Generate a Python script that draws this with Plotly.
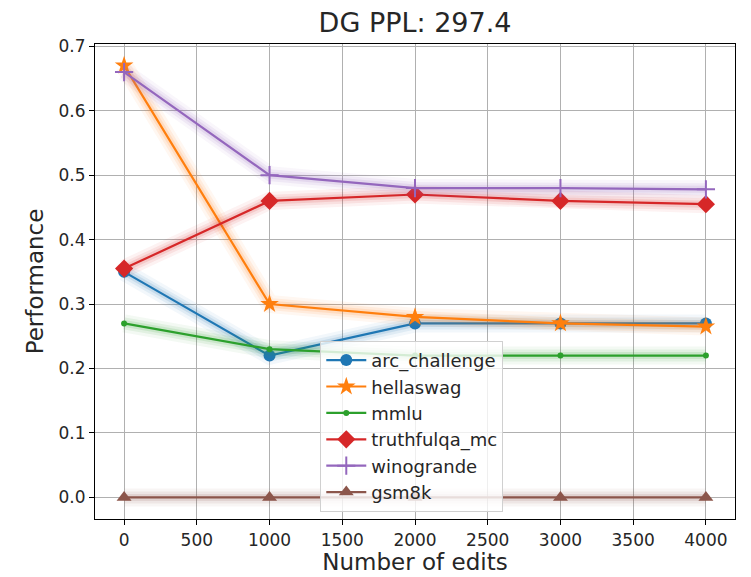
import plotly.graph_objects as go

edits = [0, 1000, 2000, 3000, 4000]
series_names = ["arc_challenge", "hellaswag", "mmlu", "truthfulqa_mc", "winogrande", "gsm8k"]
arc_challenge = [0.35, 0.22, 0.27, 0.27, 0.27]
hellaswag = [0.67, 0.30, 0.28, 0.27, 0.265]
mmlu = [0.27, 0.23, 0.22, 0.22, 0.22]
truthfulqa_mc = [0.355, 0.46, 0.47, 0.46, 0.455]
winogrande = [0.66, 0.50, 0.48, 0.48, 0.478]
gsm8k = [0.0, 0.0, 0.0, 0.0, 0.0]
x_ticks = [0, 500, 1000, 1500, 2000, 2500, 3000, 3500, 4000]
y_ticks = [0.0, 0.1, 0.2, 0.3, 0.4, 0.5, 0.6, 0.7]

values = [arc_challenge, hellaswag, mmlu, truthfulqa_mc, winogrande, gsm8k]
colors = ["#1f77b4", "#ff7f0e", "#2ca02c", "#d62728", "#9467bd", "#8c564b"]
rgb = [(31, 119, 180), (255, 127, 14), (44, 160, 44), (214, 39, 40), (148, 103, 189), (140, 86, 75)]
symbols = ["circle", "star", "circle", "diamond", "cross-thin", "triangle-up"]
sizes = [12, 14, 6, 14, 13, 13]

fig = go.Figure()
FONT = "DejaVu Sans, Arial, sans-serif"

for name, vals, c, (r, g, b), sym, sz in zip(series_names, values, colors, rgb, symbols, sizes):
    # soft glow beneath each line
    for w, a in [(18, 0.06), (12, 0.09), (7, 0.13)]:
        fig.add_trace(go.Scatter(
            x=edits, y=vals, mode="lines",
            line=dict(color=f"rgba({r},{g},{b},{a})", width=w),
            showlegend=False, hoverinfo="skip"))
    marker = dict(symbol=sym, size=sz, color=c, line=dict(color=c, width=2 if sym == "cross-thin" else 0))
    fig.add_trace(go.Scatter(
        x=edits, y=vals, mode="lines+markers", name=name,
        line=dict(color=c, width=2.2), marker=marker))

axis_common = dict(
    showline=True, linecolor="black", linewidth=1.2, mirror=True,
    ticks="outside", ticklen=5, tickcolor="black", tickwidth=1,
    showgrid=True, gridcolor="#b0b0b0", gridwidth=1, zeroline=False,
    automargin=False,
    tickfont=dict(family=FONT, size=17, color="#262626"),
)

# the page body has an 8px margin, so the figure is offset by 8px in the window
fig.update_layout(
    width=751, height=577,
    margin=dict(l=87, r=24, t=36, b=66),
    paper_bgcolor="white", plot_bgcolor="white",
    title=dict(text="DG PPL: 297.4", x=0.542, xanchor="center", y=0.975, yanchor="middle",
               font=dict(family=FONT, size=27, color="#262626")),
    xaxis=dict(range=[-200, 4200], tickvals=x_ticks, ticktext=[str(v) for v in x_ticks],
               title=dict(text="Number of edits", font=dict(family=FONT, size=23, color="#262626"), standoff=4),
               **axis_common),
    yaxis=dict(range=[-0.0335, 0.7035], tickvals=y_ticks, ticktext=[f"{v:.1f}" for v in y_ticks],
               title=dict(text="Performance", font=dict(family=FONT, size=23, color="#262626"), standoff=8),
               **axis_common),
    legend=dict(x=0.352, y=0.375, xanchor="left", yanchor="top",
                bgcolor="rgba(255,255,255,0.8)", bordercolor="#d0d0d0", borderwidth=1,
                font=dict(family=FONT, size=18, color="#262626"), itemwidth=40,
                tracegroupgap=0),
)

fig.write_html("out.html")
